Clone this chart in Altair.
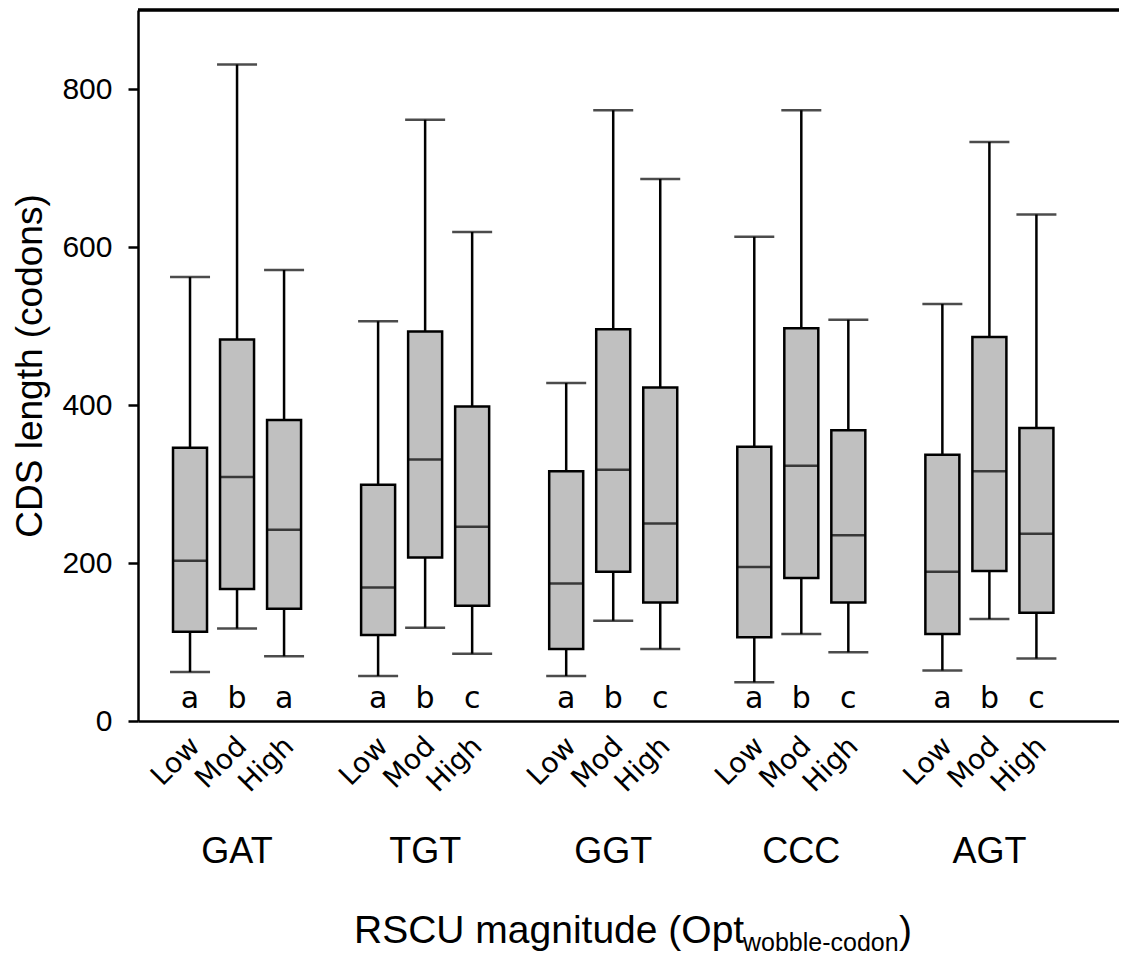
import altair as alt
import pandas as pd

codons = ["GAT", "TGT", "GGT", "CCC", "AGT"]
levels = ["Low", "Mod", "High"]

whisker_low = [[62, 117, 82], [57, 118, 85], [57, 127, 91], [49, 110, 87], [64, 129, 79]]
q1 = [[113, 167, 142], [109, 207, 146], [91, 189, 150], [106, 181, 150], [110, 190, 137]]
median = [[203, 309, 242], [169, 331, 246], [174, 318, 250], [195, 323, 235], [189, 316, 237]]
q3 = [[346, 483, 381], [299, 493, 398], [316, 496, 422], [347, 497, 368], [337, 486, 371]]
whisker_high = [[562, 831, 571], [506, 761, 619], [428, 773, 686], [613, 773, 508], [528, 733, 641]]
letters = [["a", "b", "a"], ["a", "b", "c"], ["a", "b", "c"], ["a", "b", "c"], ["a", "b", "c"]]

y_ticks = [0, 200, 400, 600, 800]
y_title = "CDS length (codons)"
x_title_parts = ["RSCU magnitude (Opt", "wobble-codon", ")"]

rows = []
for g, cod in enumerate(codons):
    for l, lev in enumerate(levels):
        rows.append({
            "codon": cod, "level": lev, "pos": g * 4 + l,
            "lo": whisker_low[g][l], "q1": q1[g][l], "med": median[g][l],
            "q3": q3[g][l], "hi": whisker_high[g][l], "letter": letters[g][l],
        })
df = pd.DataFrame(rows)
grp = pd.DataFrame({"codon": codons, "pos": [g * 4 + 1 for g in range(len(codons))]})

W, H = 981, 711
FONT = "Liberation Sans"
TFONT = "DejaVu Sans"
LW = 2.5

xscale = alt.Scale(domain=[-1, 19.65], nice=False, zero=False)
yscale = alt.Scale(domain=[0, 900], nice=False, zero=True)
xaxis = alt.Axis(title=None, labels=False, ticks=False, grid=False, domain=True,
                 domainColor="black", domainWidth=LW)
yaxis = alt.Axis(title=y_title, values=y_ticks, grid=False, domain=True, domainColor="black",
                 domainWidth=LW, ticks=True, tickSize=10, tickWidth=LW, tickColor="black",
                 labelFont=FONT, labelFontSize=30, labelColor="black", labelPadding=16,
                 titleFont=FONT, titleFontSize=37, titleFontWeight="normal", titleColor="black",
                 titlePadding=12)

X = alt.X("pos:Q", scale=xscale, axis=xaxis)
base = alt.Chart(df)

whisk = base.mark_rule(color="black", strokeWidth=LW).encode(
    x=X, y=alt.Y("lo:Q", scale=yscale, axis=yaxis), y2="hi:Q")
cap_hi = base.mark_tick(orient="horizontal", size=40, thickness=LW, color="black").encode(
    x=X, y=alt.Y("hi:Q", scale=yscale, axis=yaxis))
cap_lo = base.mark_tick(orient="horizontal", size=40, thickness=LW, color="black").encode(
    x=X, y=alt.Y("lo:Q", scale=yscale, axis=yaxis))
box = base.mark_bar(size=34, fill="#c0c0c0", stroke="black", strokeWidth=LW).encode(
    x=X, y=alt.Y("q1:Q", scale=yscale, axis=yaxis), y2="q3:Q")
med = base.mark_tick(orient="horizontal", size=34, thickness=LW, color="black").encode(
    x=X, y=alt.Y("med:Q", scale=yscale, axis=yaxis))

let = base.mark_text(font=TFONT, fontSize=30, color="black", baseline="alphabetic").encode(
    x=X, y=alt.value(H - 13), text="letter:N")
ticklab = base.mark_text(font=TFONT, fontSize=28, color="black", angle=315, align="right",
                         baseline="alphabetic", dx=8, dy=8).encode(
    x=X, y=alt.value(H + 27), text="level:N")
grplab = alt.Chart(grp).mark_text(font=FONT, fontSize=36, color="black",
                                  baseline="alphabetic").encode(
    x=X, y=alt.value(H + 142), text="codon:N")

one = pd.DataFrame({"t": x_title_parts})
t1 = alt.Chart(one).transform_filter(alt.datum.t == x_title_parts[0]).mark_text(
    font=FONT, fontSize=39, color="black", align="left", baseline="alphabetic").encode(
    x=alt.value(216), y=alt.value(H + 222), text="t:N")
t2 = alt.Chart(one).transform_filter(alt.datum.t == x_title_parts[1]).mark_text(
    font=FONT, fontSize=25, color="black", align="left", baseline="alphabetic").encode(
    x=alt.value(605), y=alt.value(H + 230), text="t:N")
t3 = alt.Chart(one).transform_filter(alt.datum.t == x_title_parts[2]).mark_text(
    font=FONT, fontSize=39, color="black", align="left", baseline="alphabetic").encode(
    x=alt.value(761), y=alt.value(H + 222), text="t:N")

top = alt.Chart(grp).mark_rule(color="black", strokeWidth=LW).encode(
    x=alt.value(0), x2=alt.value(W), y=alt.value(0))

chart = alt.layer(whisk, cap_hi, cap_lo, box, med, let, ticklab, grplab, t1, t2, t3, top).properties(
    width=W, height=H,
    autosize=alt.AutoSizeParams(type="none"),
    padding={"left": 130, "top": 2, "right": 0, "bottom": 237},
).configure_view(stroke=None).configure(background="white")

chart.save("out.html", embed_options={"renderer": "svg", "actions": False})
